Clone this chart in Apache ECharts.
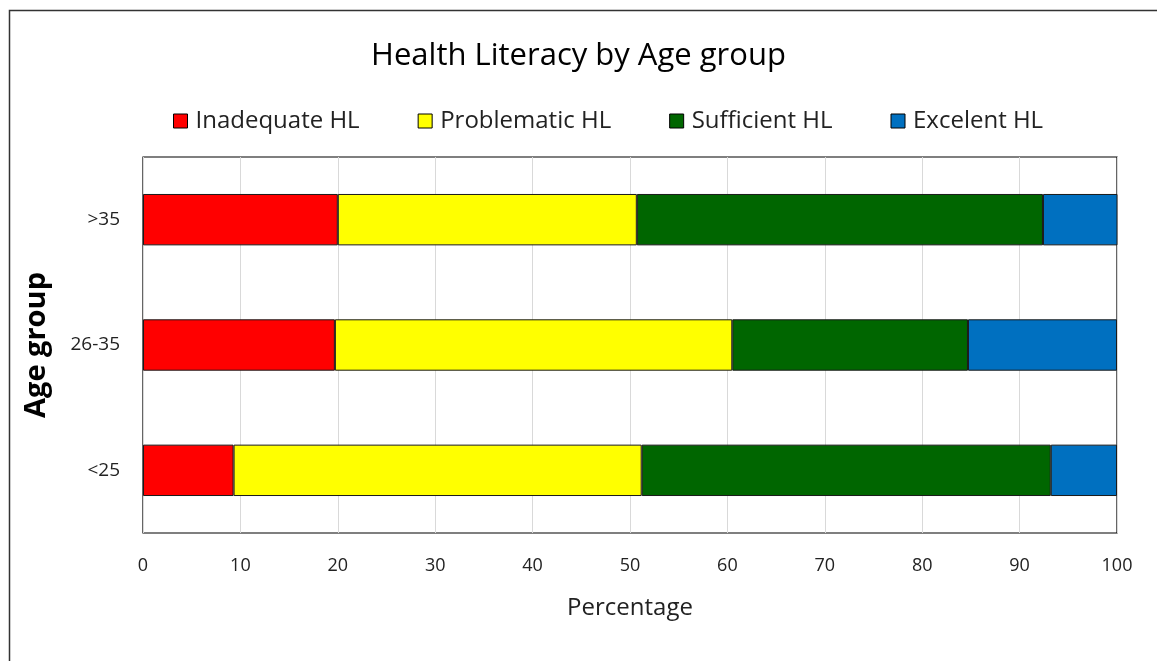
<!DOCTYPE html>
<html>
<head>
<meta charset="utf-8">
<script src="https://cdn.jsdelivr.net/npm/echarts@6/dist/echarts.min.js"></script>
<style>
html,body{margin:0;padding:0;background:#fff;}
#chart{width:1157px;height:661px;}
</style>
</head>
<body>
<div id="chart"></div>
<script>
const categories = ['<25', '26-35', '>35'];
const inadequate = [9.3, 19.7, 20.0];
const problematic = [41.9, 40.8, 30.7];
const sufficient = [42.0, 24.2, 41.7];
const excelent = [6.8, 15.3, 8.3];
const xTicks = [0, 10, 20, 30, 40, 50, 60, 70, 80, 90, 100];

const FONT = '"Open Sans", "Noto Sans", sans-serif';
const chart = echarts.init(document.getElementById('chart'), null, {renderer: 'canvas'});

function mk(name, data, color) {
  return {
    name: name, type: 'bar', stack: 'total', data: data,
    barWidth: '41%',
    itemStyle: {color: color, borderColor: '#1a1a1a', borderWidth: 1},
    emphasis: {disabled: true}
  };
}

chart.setOption({
  animation: false,
  backgroundColor: '#fff',
  title: {
    text: 'Health Literacy by Age group',
    left: 'center', top: 36,
    textStyle: {fontFamily: FONT, fontSize: 31, fontWeight: 'normal', color: '#000'}
  },
  legend: {
    top: 104, left: 168,
    itemWidth: 14, itemHeight: 14, itemGap: 58,
    icon: 'rect',
    textStyle: {fontFamily: FONT, fontSize: 24, color: '#222', padding: [0, 0, 0, 3]},
    itemStyle: {borderColor: '#000', borderWidth: 1}
  },
  graphic: [{
    type: 'rect', left: 7, top: 8, z: -1,
    shape: {width: 1160, height: 700},
    style: {fill: 'none', stroke: '#333', lineWidth: 1.5}
  }],
  grid: {left: 143, right: 40, top: 157, bottom: 128, show: true, borderColor: '#000', borderWidth: 1.2, backgroundColor: 'transparent'},
  xAxis: {
    type: 'value', min: 0, max: 100, interval: 10,
    name: 'Percentage', nameLocation: 'middle', nameGap: 63,
    nameTextStyle: {fontFamily: FONT, fontSize: 24, color: '#222'},
    axisLine: {show: false}, axisTick: {show: false},
    axisLabel: {fontFamily: FONT, fontSize: 18, color: '#222', margin: 24,
      formatter: function (v) { return xTicks.indexOf(v) >= 0 ? String(v) : ''; }},
    splitLine: {show: true, lineStyle: {color: '#d9d9d9', width: 1}}
  },
  yAxis: {
    type: 'category', data: categories,
    name: 'Age group', nameLocation: 'middle', nameGap: 92,
    nameTextStyle: {fontFamily: FONT, fontSize: 29, fontWeight: 'bold', color: '#000'},
    axisLine: {show: false}, axisTick: {show: false},
    axisLabel: {fontFamily: FONT, fontSize: 19, color: '#222', margin: 23},
    splitLine: {show: false}
  },
  series: [
    mk('Inadequate HL', inadequate, '#FF0000'),
    mk('Problematic HL', problematic, '#FFFF00'),
    mk('Sufficient HL', sufficient, '#006600'),
    mk('Excelent HL', excelent, '#0070C0')
  ]
});
</script>
</body>
</html>
